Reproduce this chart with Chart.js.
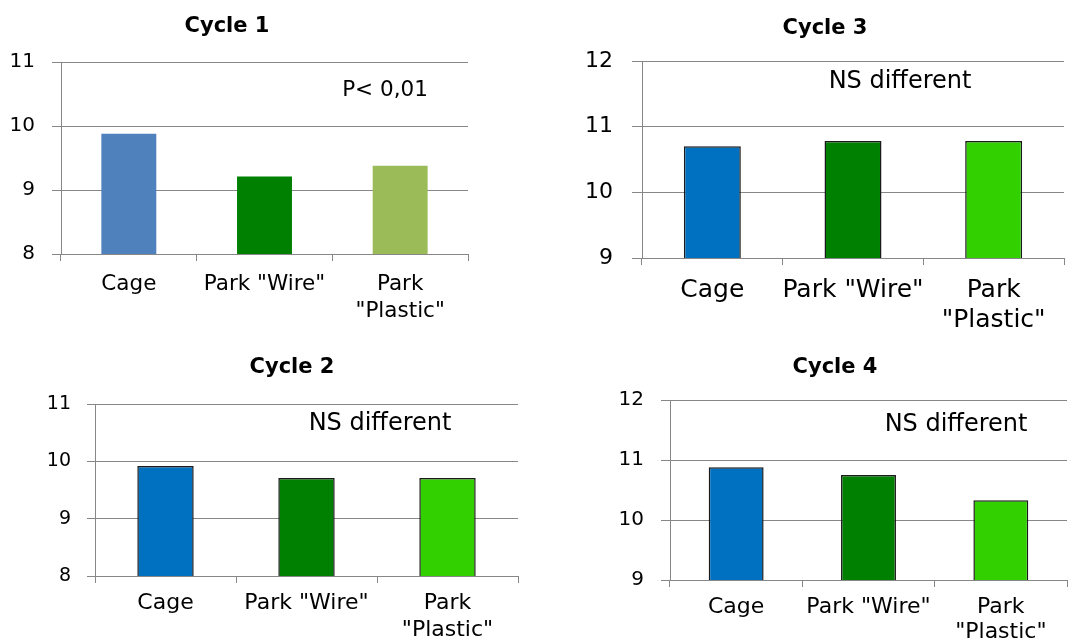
<!DOCTYPE html>
<html lang="en">
<head>
    <meta charset="UTF-8">
    <title>Cycles</title>
    <script src="https://cdn.jsdelivr.net/npm/chart.js"></script>
    <style>
        body { margin: 0; background: #fff; }
        canvas { position: absolute; }
    </style>
</head>
<body>
    <canvas id="c1" width="544" height="330" style="left:0;top:0"></canvas>
    <canvas id="c3" width="544" height="330" style="left:544px;top:0"></canvas>
    <canvas id="c2" width="544" height="311" style="left:0;top:330px"></canvas>
    <canvas id="c4" width="544" height="311" style="left:544px;top:330px"></canvas>

    <script>
        // categorie e valori
        const categories = ['Cage', 'Park "Wire"', ['Park', '"Plastic"']];
        const cycle1Values = [9.88, 9.21, 9.38];
        const cycle2Values = [9.92, 9.71, 9.71];
        const cycle3Values = [10.70, 10.78, 10.78];
        const cycle4Values = [10.88, 10.75, 10.33];
        const cycle1Range = [8, 11];
        const cycle2Range = [8, 11];
        const cycle3Range = [9, 12];
        const cycle4Range = [9, 12];
        const titles = ['Cycle 1', 'Cycle 2', 'Cycle 3', 'Cycle 4'];
        const notes = ['P< 0,01', 'NS different', 'NS different', 'NS different'];

        const gridColor = '#878787';
        const colorsOld = ['#4f81bd', '#008000', '#9bbb59'];
        const colorsNew = ['#0070c0', '#008000', '#33d000'];

        // titolo e nota scritti sopra il grafico
        const textPlugin = {
            id: 'testi',
            afterDraw(chart) {
                const o = chart.options.plugins.testi;
                const ctx = chart.ctx;
                ctx.save();
                ctx.fillStyle = '#000';
                ctx.textAlign = 'center';
                ctx.textBaseline = 'middle';
                ctx.font = 'bold ' + o.titleSize + 'px "DejaVu Sans"';
                ctx.fillText(o.title, o.titleX, o.titleY);
                ctx.font = o.noteSize + 'px "DejaVu Sans"';
                ctx.fillText(o.note, o.noteX, o.noteY);
                ctx.restore();
            }
        };

        function creaGrafico(id, values, range, colors, border, cfg) {
            const canvas = document.getElementById(id);
            return new Chart(canvas.getContext('2d'), {
                type: 'bar',
                data: {
                    labels: categories,
                    datasets: [{
                        data: values,
                        backgroundColor: colors,
                        borderColor: '#1a1a1a',
                        borderWidth: border,
                        borderSkipped: false,
                        barPercentage: cfg.bar,
                        categoryPercentage: 1
                    }]
                },
                plugins: [textPlugin],
                options: {
                    responsive: false,
                    animation: false,
                    devicePixelRatio: 1,
                    layout: { padding: { left: 0, top: cfg.top, right: cfg.right, bottom: 0 } },
                    plugins: {
                        legend: { display: false },
                        tooltip: { enabled: false },
                        testi: cfg.text
                    },
                    scales: {
                        x: {
                            afterFit: s => { s.height = canvas.height - cfg.bottom; },
                            grid: { offset: true, drawOnChartArea: false, color: gridColor, tickLength: 7 },
                            border: { color: gridColor },
                            ticks: {
                                color: '#000',
                                padding: cfg.xPad,
                                autoSkip: false,
                                maxRotation: 0,
                                minRotation: 0,
                                font: { family: 'DejaVu Sans', size: cfg.xSize, lineHeight: cfg.lh }
                            }
                        },
                        y: {
                            min: range[0],
                            max: range[1],
                            afterFit: s => { s.width = cfg.left; },
                            grid: { color: gridColor, tickLength: cfg.yTick },
                            border: { color: gridColor },
                            ticks: {
                                stepSize: 1,
                                color: '#000',
                                padding: cfg.yPad,
                                font: { family: 'DejaVu Sans', size: cfg.ySize }
                            }
                        }
                    }
                }
            });
        }

        creaGrafico('c1', cycle1Values, cycle1Range, colorsOld, 0, {
            left: 61, top: 62, right: 76, bottom: 254, bar: 0.405,
            xSize: 21.5, xPad: 10, lh: 1.25, ySize: 20, yPad: 17, yTick: 9,
            text: { title: titles[0], titleX: 227, titleY: 27, titleSize: 21,
                    note: notes[0], noteX: 385, noteY: 90, noteSize: 21.5 }
        });
        creaGrafico('c3', cycle3Values, cycle3Range, colorsNew, 1.5, {
            left: 98, top: 61, right: 24, bottom: 258, bar: 0.405,
            xSize: 25, xPad: 10, lh: 1.2, ySize: 22, yPad: 19, yTick: 10,
            text: { title: titles[2], titleX: 281, titleY: 29, titleSize: 21,
                    note: notes[2], noteX: 356, noteY: 82, noteSize: 24 }
        });
        creaGrafico('c2', cycle2Values, cycle2Range, colorsNew, 1.5, {
            left: 95, top: 74, right: 26, bottom: 246, bar: 0.40,
            xSize: 22, xPad: 7, lh: 1.23, ySize: 19, yPad: 16, yTick: 8,
            text: { title: titles[1], titleX: 292, titleY: 38, titleSize: 21,
                    note: notes[1], noteX: 380, noteY: 94, noteSize: 24 }
        });
        creaGrafico('c4', cycle4Values, cycle4Range, colorsNew, 1.5, {
            left: 126, top: 70, right: 21, bottom: 250, bar: 0.415,
            xSize: 22, xPad: 8, lh: 1.14, ySize: 20, yPad: 17, yTick: 9,
            text: { title: titles[3], titleX: 291, titleY: 38, titleSize: 21,
                    note: notes[3], noteX: 412, noteY: 95, noteSize: 24 }
        });
    </script>
</body>
</html>
